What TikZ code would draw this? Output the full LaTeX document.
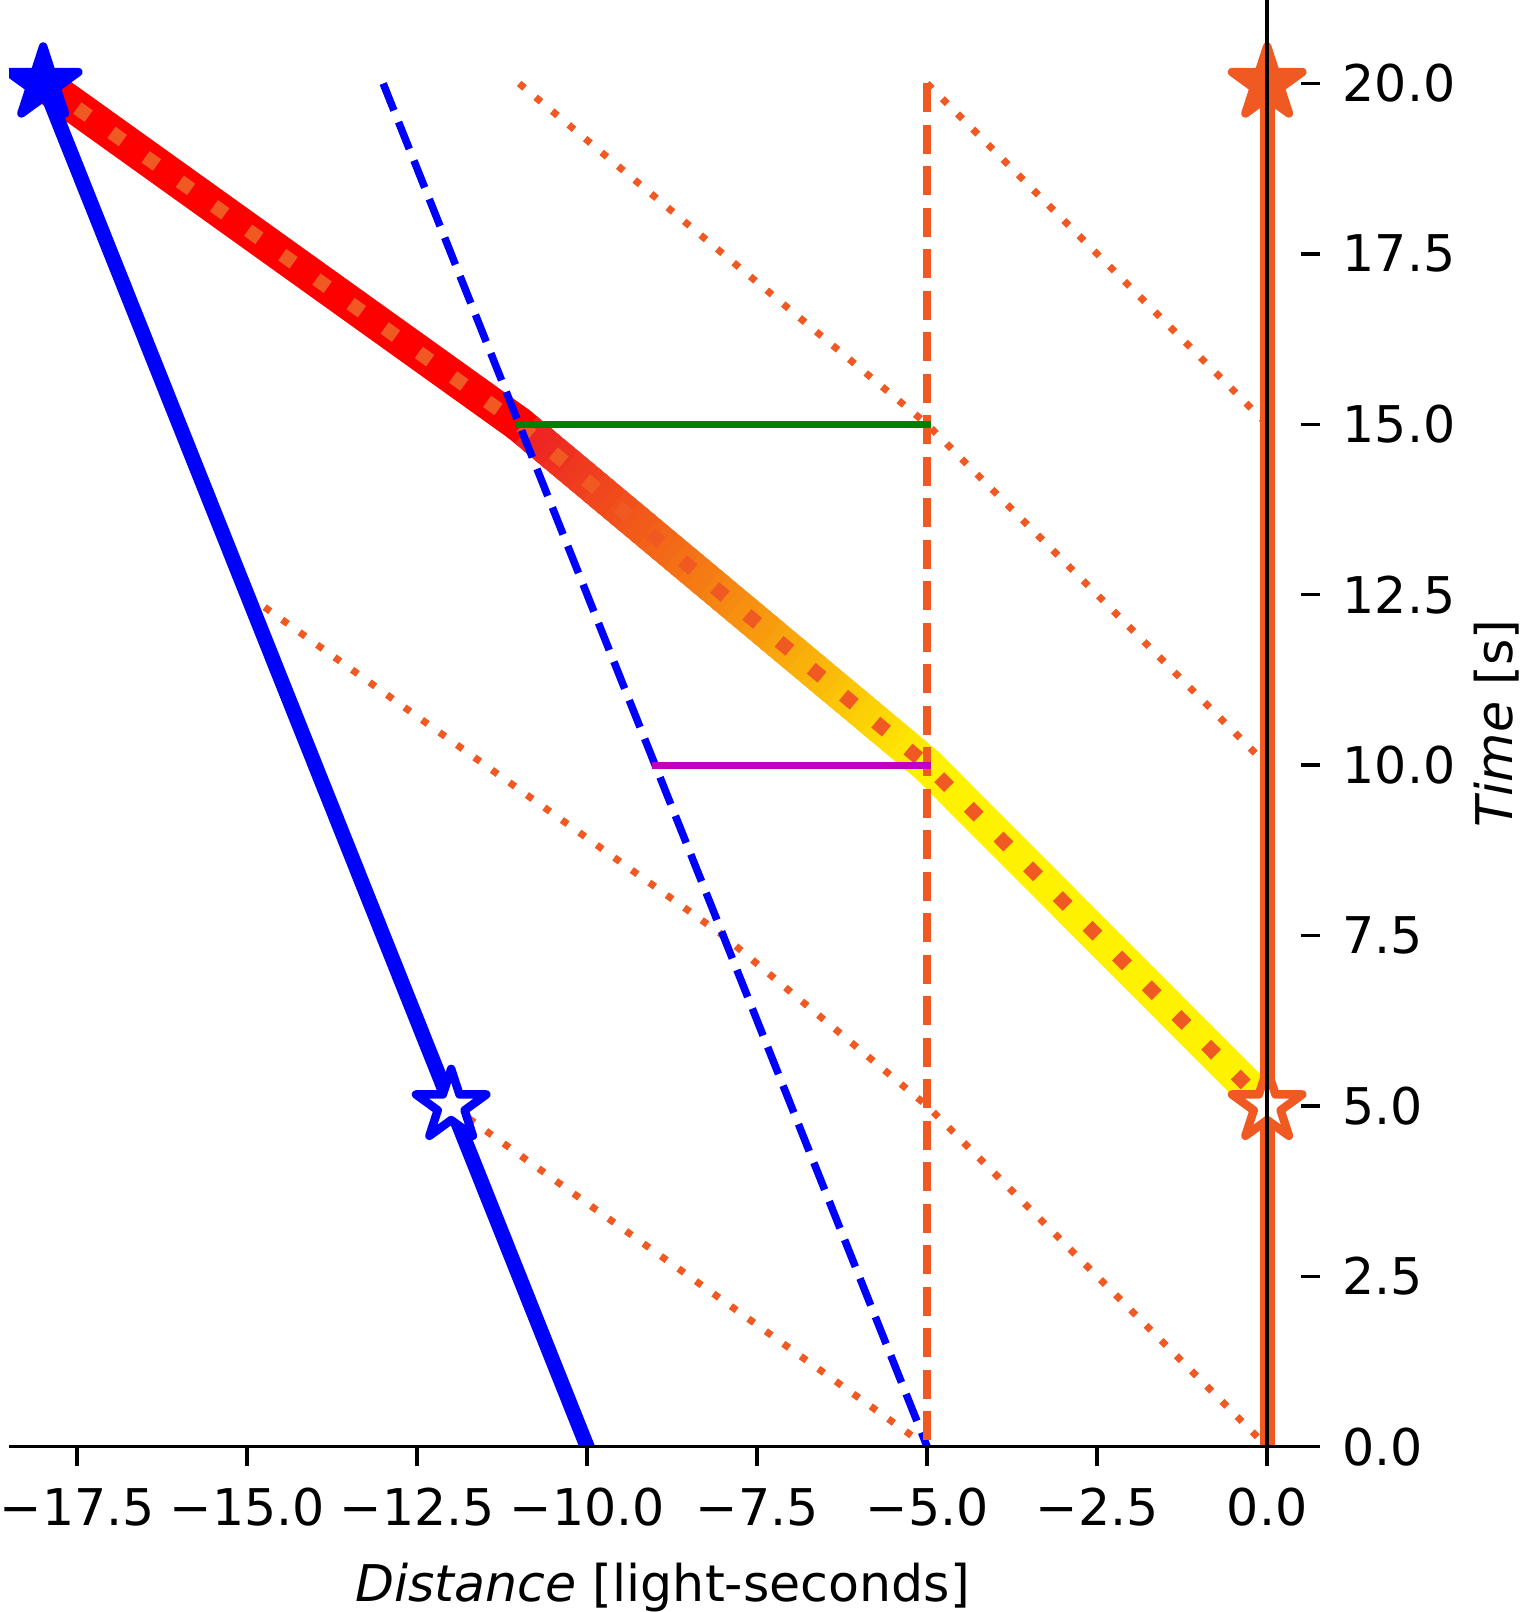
\documentclass[tikz,border=0pt]{standalone}
\usepackage{fontspec}
\setmainfont{DejaVu Sans}
\usetikzlibrary{calc}
\definecolor{ored}{RGB}{240,90,34}
\definecolor{mblue}{RGB}{0,0,255}
\definecolor{mgreen}{RGB}{0,128,0}
\definecolor{mmag}{RGB}{191,0,191}
\newcommand\drawstarmark[3]{%
  \filldraw[fill=#2, draw=#3, line width=0.085cm, line join=round, shift={#1}]
    (90:0.37cm) -- (126:0.1413cm) -- (162:0.37cm) -- (198:0.1413cm) --
    (234:0.37cm) -- (270:0.1413cm) -- (306:0.37cm) -- (342:0.1413cm) --
    (18:0.37cm) -- (54:0.1413cm) -- cycle;}
\begin{document}
\begin{tikzpicture}[x=0.6800cm, y=0.6816cm,
  band/.style={line width=0.35cm, line cap=butt},
  bandots/.style={ored, line width=0.14cm, dash pattern=on 0.14cm off 0.28cm},
  ray/.style={ored, line width=0.07cm, dash pattern=on 0.07cm off 0.145cm},
  dashline/.style={line width=0.075cm, dash pattern=on 0.29cm off 0.125cm},
  worldline/.style={line width=0.15cm, line cap=rect},
  hline/.style={line width=0.07cm, line cap=rect},
  axisline/.style={black, line width=0.035cm},
  ticklab/.style={font=\fontsize{14.4pt}{17pt}\selectfont, inner sep=0pt}]
\useasboundingbox (-18.635,-2.425) rectangle (3.791,21.225);

% named points
\coordinate (srcTop) at (-18,20);
\coordinate (srcBot) at (-10,0);
\coordinate (srcMid) at (-12,5);
\coordinate (dashTop) at (-13,20);
\coordinate (dashBot) at (-5,0);
\coordinate (vTop) at (-5,20);
\coordinate (vBot) at (-5,0);
\coordinate (obsTop) at (0,20);
\coordinate (obsBot) at (0,0);
\coordinate (obsMid) at (0,5);
\coordinate (P1) at (-11,15);
\coordinate (P2) at (-5,10);
\coordinate (G2) at (-5,15);
\coordinate (M1) at (-9,10);
\coordinate (Ra0) at (-11,20);
\coordinate (Ra2) at (0,10);
\coordinate (Rb2) at (0,15);
\coordinate (Rc0) at (-15,12.5);
\coordinate (Rc1) at (-8,7.5);
\coordinate (Rc2) at (-5,5);

\begin{scope}
\clip (-18.5,0) rectangle (0.72,21.225);
% thick band
\draw[band, red] (srcTop) -- (P1);
\fill[red] (P1) circle (0.175cm);
\foreach \i in {0,...,59} {
  \pgfmathsetmacro\ta{\i/60}
  \pgfmathsetmacro\tb{min(1,(\i+1.5)/60)}
  \pgfmathtruncatemacro\pc{(\i+0.5)/60*100}
  \draw[band, color=yellow!\pc!red] ($(P1)!\ta!(P2)$) -- ($(P1)!\tb!(P2)$);
}
\fill[yellow] (P2) circle (0.175cm);
\draw[band, yellow] (P2) -- (obsMid);
\draw[bandots] (srcTop) -- (P1) -- (P2) -- (obsMid);
% light rays
\draw[ray] (Ra0) -- (G2) -- (Ra2);
\draw[ray] (vTop) -- (Rb2);
\draw[ray] (Rc0) -- (Rc1) -- (Rc2) -- (obsBot);
\draw[ray] (srcMid) -- (dashBot);
% world lines
\draw[worldline, mblue] (srcTop) -- (srcBot);
\draw[worldline, ored] (obsBot) -- (obsTop);
% dashed lines
\draw[dashline, mblue] (dashTop) -- (dashBot);
\draw[dashline, ored] (vTop) -- (vBot);
% horizontal segments
\draw[hline, mgreen] (P1) -- (G2);
\draw[hline, mmag] (M1) -- (P2);
% stars
\drawstarmark{(srcTop)}{mblue}{mblue}
\drawstarmark{(obsTop)}{ored}{ored}
\drawstarmark{(srcMid)}{white}{mblue}
\drawstarmark{(obsMid)}{white}{ored}
\end{scope}

% axes
\draw[axisline] (-18.5,0) -- (0.72,0);
\draw[axisline] (0,-0.29) -- (0,21.225);
\foreach \v/\l [count=\k] in {-17.5/−17.5, -15/−15.0, -12.5/−12.5, -10/−10.0, -7.5/−7.5, -5/−5.0, -2.5/−2.5, 0/0.0} {
  \draw[axisline] (\v,0) -- (\v,-0.29);
  \node[ticklab, anchor=base] (xt\k) at (\v,-1.15) {\l};
}
\foreach \v/\l [count=\k] in {0/0.0, 2.5/2.5, 5/5.0, 7.5/7.5, 10/10.0, 12.5/12.5, 15/15.0, 17.5/17.5, 20/20.0} {
  \draw[axisline] (0.50,\v) -- (0.775,\v);
  \node[ticklab, anchor=west] (yt\k) at (1.10,\v) {\l};
}
\node[ticklab, anchor=base] (xlab) at (-8.89,-2.27) {\textit{Distance} [light-seconds]};
\node[ticklab, anchor=base, rotate=90] (ylab) at (3.61,10.61) {\textit{Time} [s]};
\end{tikzpicture}
\end{document}
